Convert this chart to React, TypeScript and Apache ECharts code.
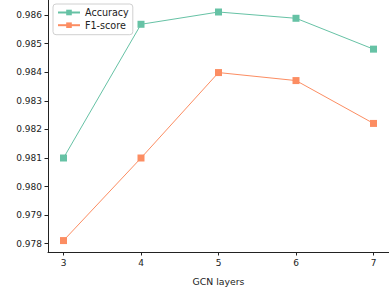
import React, { useEffect, useRef } from "react";
import * as echarts from "echarts";

const layers = [3, 4, 5, 6, 7];
const accuracy = [0.981, 0.98568, 0.98611, 0.98589, 0.98481];
const f1score = [0.97811, 0.981, 0.98399, 0.98371, 0.98221];
const yTicks = [0.978, 0.979, 0.98, 0.981, 0.982, 0.983, 0.984, 0.985, 0.986];

const FONT = "DejaVu Sans";

export default function App() {
  const ref = useRef<HTMLDivElement>(null);
  useEffect(() => {
    if (!ref.current) return;
    const chart = echarts.init(ref.current, undefined, { renderer: "svg" });
    chart.setOption({
      animation: false,
      textStyle: { fontFamily: FONT },
      grid: { left: 48, top: -1, right: -3, bottom: 37, containLabel: false },
      legend: {
        orient: "vertical",
        left: 53,
        top: 4,
        padding: [3.5, 4, 4.5, 4],
        itemGap: 2.7,
        itemWidth: 22,
        itemHeight: 7,
        borderColor: "#d0d0d0",
        borderWidth: 1,
        borderRadius: 3,
        backgroundColor: "rgba(255,255,255,0.8)",
        textStyle: { fontFamily: FONT, fontSize: 9.6, lineHeight: 10, color: "#222" },
        data: ["Accuracy", "F1-score"],
      },
      xAxis: {
        type: "value",
        min: 2.8,
        max: 7.2,
        name: "GCN layers",
        nameLocation: "middle",
        nameGap: 25,
        nameTextStyle: { fontFamily: FONT, fontSize: 9.3, color: "#222" },
        axisLine: { show: true, lineStyle: { color: "#222", width: 1 } },
        axisTick: { show: true, length: 3.5, lineStyle: { color: "#222" }, customValues: layers },
        axisLabel: {
          fontFamily: FONT,
          fontSize: 9,
          color: "#222",
          margin: 6,
          customValues: layers,
          formatter: (v: number) => String(Math.round(v)),
        },
        splitLine: { show: false },
      },
      yAxis: {
        type: "value",
        min: 0.97771,
        max: 0.98653,
        axisLine: { show: true, lineStyle: { color: "#222", width: 1 } },
        axisTick: { show: true, length: 3.5, lineStyle: { color: "#222" }, customValues: yTicks },
        axisLabel: {
          fontFamily: FONT,
          fontSize: 9,
          color: "#222",
          margin: 6,
          customValues: yTicks,
          formatter: (v: number) => v.toFixed(3),
        },
        splitLine: { show: false },
      },
      series: [
        {
          name: "Accuracy",
          type: "line",
          data: layers.map((x, i) => [x, accuracy[i]]),
          symbol: "rect",
          symbolSize: 7,
          itemStyle: { color: "#66c2a5" },
          lineStyle: { color: "#66c2a5", width: 1 },
        },
        {
          name: "F1-score",
          type: "line",
          data: layers.map((x, i) => [x, f1score[i]]),
          symbol: "rect",
          symbolSize: 7,
          itemStyle: { color: "#fc8d62" },
          lineStyle: { color: "#fc8d62", width: 1 },
        },
      ],
    });
    return () => chart.dispose();
  }, []);
  return <div ref={ref} style={{ width: 389, height: 291, position: "absolute", left: 0, top: 0 }} />;
}
